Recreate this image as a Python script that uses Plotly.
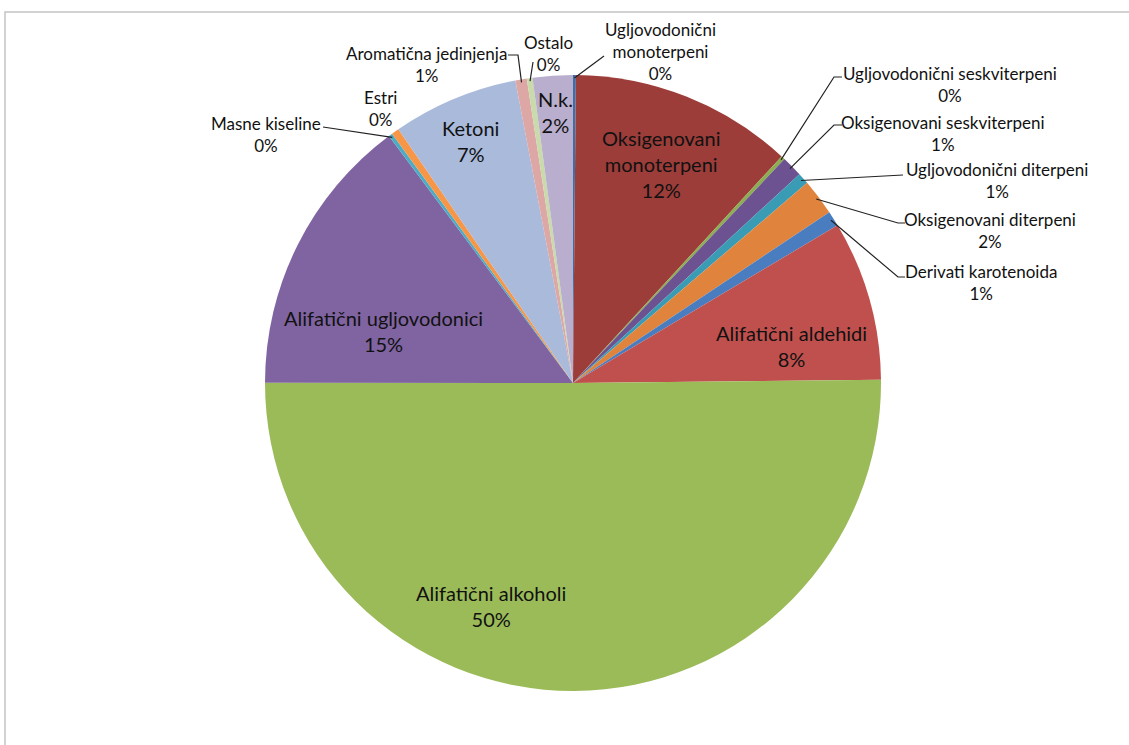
import math
import plotly.graph_objects as go

W, H = 1129, 745

labels = [
    "Ugljovodonični monoterpeni", "Oksigenovani monoterpeni",
    "Ugljovodonični seskviterpeni", "Oksigenovani seskviterpeni",
    "Ugljovodonični diterpeni", "Oksigenovani diterpeni",
    "Derivati karotenoida", "Alifatični aldehidi", "Alifatični alkoholi",
    "Alifatični ugljovodonici", "Masne kiseline", "Estri", "Ketoni",
    "Aromatična jedinjenja", "Ostalo", "N.k.",
]
values = [0.15, 11.7, 0.2, 1.1, 0.6, 1.9, 0.8, 8.4, 50.2, 14.8,
          0.2, 0.4, 6.6, 0.6, 0.3, 2.1]
colors = ["#3E6EA8", "#9C3D3A", "#8DAE50", "#6C5290", "#3A9BB5", "#E0843D",
          "#4A7DBF", "#C0504D", "#9BBB59", "#8064A2", "#4BACC6", "#F79646",
          "#A9BADB", "#DDA7A6", "#C9DAAB", "#B9AECD"]

# label text (with manual line breaks as in the original)
label_text = {
    "Ugljovodonični monoterpeni": "Ugljovodonični<br>monoterpeni",
    "Oksigenovani monoterpeni": "Oksigenovani<br>monoterpeni",
}

# pie geometry in pixels
CX, CY, R = 573, 383, 308

# label placement: (x, y, font size, leader end points or None)
label_pos = {
    "Ugljovodonični monoterpeni": (660, 52, 17, [(604, 56)]),
    "Oksigenovani monoterpeni": (661, 164, 20, None),
    "Ugljovodonični seskviterpeni": (950, 85, 17, [(834, 77), (842, 77)]),
    "Oksigenovani seskviterpeni": (943, 133, 17, [(834, 125), (842, 125)]),
    "Ugljovodonični diterpeni": (997, 181, 17, [(903, 175)]),
    "Oksigenovani diterpeni": (990, 230, 17, [(898, 223), (905, 223)]),
    "Derivati karotenoida": (981, 282, 17, [(898, 277), (905, 277)]),
    "Alifatični aldehidi": (791, 346, 20, None),
    "Alifatični alkoholi": (491, 606, 20, None),
    "Alifatični ugljovodonici": (383, 331, 20, None),
    "Masne kiseline": (266, 134, 17, [(323, 127)]),
    "Estri": (380, 108, 17, None),
    "Ketoni": (470, 141, 20, None),
    "Aromatična jedinjenja": (426, 65, 17, [(518, 55), (508, 55)]),
    "Ostalo": (548, 53, 17, [(533, 62)]),
    "N.k.": (555, 112, 20, None),
}


def px_to_paper(x, y):
    return x / W, 1 - y / H


fig = go.Figure(go.Pie(
    labels=labels,
    values=values,
    sort=False,
    direction="clockwise",
    rotation=0,
    textinfo="none",
    hoverinfo="label+percent",
    marker=dict(colors=colors, line=dict(width=0)),
    domain=dict(x=[(CX - R) / W, (CX + R) / W],
                y=[1 - (CY + R) / H, 1 - (CY - R) / H]),
    showlegend=False,
))

total = sum(values)
cum = 0.0
shapes = []
annotations = []
for lab, v in zip(labels, values):
    mid = (cum + v / 2) / total * 2 * math.pi
    cum += v
    x, y, size, leader = label_pos[lab]
    pct = int(v / total * 100 + 0.5)
    txt = label_text.get(lab, lab) + "<br>" + f"{pct}%"
    ax, ay = px_to_paper(x, y)
    annotations.append(dict(
        x=ax, y=ay, xref="paper", yref="paper", text=txt, showarrow=False,
        xanchor="center", yanchor="middle", align="center",
        font=dict(family="Lato", size=size, color="#111111"),
    ))
    if leader:
        sx = CX + (R - 3) * math.sin(mid)
        sy = CY - (R - 3) * math.cos(mid)
        pts = [(sx, sy)] + leader
        path = ""
        for i, (px, py) in enumerate(pts):
            qx, qy = px_to_paper(px, py)
            path += ("M" if i == 0 else " L") + f"{qx:.5f},{qy:.5f}"
        shapes.append(dict(type="path", path=path, xref="paper", yref="paper",
                           line=dict(color="#222222", width=1.2)))

# chart area border (only left and top edges visible in frame)
shapes.append(dict(type="path", xref="paper", yref="paper",
                   path=f"M{5 / W:.5f},-0.02 L{5 / W:.5f},{1 - 12 / H:.5f} L1.02,{1 - 12 / H:.5f}",
                   line=dict(color="#C4C4C4", width=1.5)))

fig.update_layout(
    width=W, height=H,
    margin=dict(l=0, r=0, t=0, b=0),
    paper_bgcolor="white",
    plot_bgcolor="white",
    shapes=shapes,
    annotations=annotations,
)

# drop the default page margin so the figure fills the window exactly
fig.write_html("out.html", config={"displayModeBar": False},
               post_script="document.body.style.margin='0';")
